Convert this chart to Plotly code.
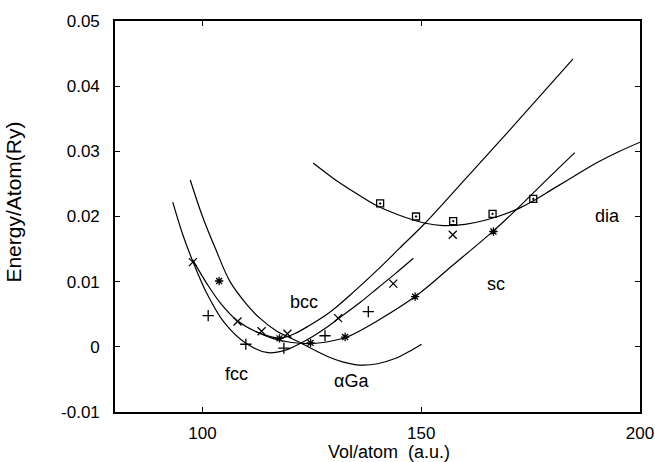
import plotly.graph_objects as go

# ---- fitted curves ----
fcc_v = [93.2, 95.5, 97.8, 101, 105, 110, 115, 119, 122, 125, 128, 131, 136, 140, 144, 148.2]
fcc_e = [0.0222, 0.0172, 0.0131, 0.0082, 0.0037, 0.0005, -0.0009, -0.0005, 0.0004, 0.0015, 0.0028, 0.0043, 0.0068, 0.0090, 0.0112, 0.0136]

bcc_v = [97.8, 101, 104, 108, 112, 116, 118.5, 121, 124, 129.1, 135, 140, 145, 150.9, 160, 170, 184.7]
bcc_e = [0.0133, 0.0097, 0.0068, 0.0040, 0.0024, 0.0015, 0.0014, 0.0020, 0.0031, 0.0053, 0.0087, 0.0118, 0.0151, 0.0190, 0.0257, 0.0331, 0.0442]

sc_v = [112, 116, 120, 124, 128, 133, 140, 149, 157, 166.5, 171.8, 178, 185.1]
sc_e = [0.0024, 0.0013, 0.0007, 0.0005, 0.0007, 0.0015, 0.0040, 0.0079, 0.0124, 0.0178, 0.0211, 0.0252, 0.0298]

aga_v = [97.2, 100, 103, 106.3, 110, 113.1, 117, 120, 122.5, 125, 129, 132, 136, 140, 144, 147, 150.1]
aga_e = [0.0256, 0.0200, 0.0150, 0.0100, 0.0066, 0.0044, 0.0024, 0.0014, 0.0006, -0.0003, -0.0016, -0.0023, -0.0028, -0.0026, -0.0018, -0.0008, 0.0004]

dia_v = [125.3, 130, 135, 140, 145, 150.7, 155, 160, 165, 171.8, 175.6, 180, 185, 190, 195, 200]
dia_e = [0.0282, 0.0258, 0.0236, 0.0216, 0.0202, 0.0190, 0.0186, 0.0188, 0.0195, 0.0211, 0.0224, 0.0242, 0.0262, 0.0282, 0.0299, 0.0314]

# ---- computed points ----
fcc_pts_v = [101.3, 109.9, 118.6, 128.0, 137.9]
fcc_pts_e = [0.0048, 0.0004, -0.0002, 0.0017, 0.0054]
bcc_pts_v = [97.8, 108.0, 113.5, 119.4, 131.0, 143.6, 157.2]
bcc_pts_e = [0.0130, 0.0039, 0.0024, 0.0020, 0.0044, 0.0097, 0.0172]
sc_pts_v = [103.8, 117.6, 124.7, 132.6, 148.6, 166.5]
sc_pts_e = [0.0101, 0.0013, 0.0006, 0.0015, 0.0077, 0.0177]
dia_pts_v = [140.6, 148.8, 157.3, 166.3, 175.6]
dia_pts_e = [0.0220, 0.0200, 0.0193, 0.0204, 0.0227]

labels = ["bcc", "fcc", "αGa", "sc", "dia"]
label_v = [123.2, 107.8, 134.1, 167.1, 192.5]
label_e = [0.0069, -0.0042, -0.0053, 0.0096, 0.0201]

x_ticks = [100, 150, 200]
y_ticks = [-0.01, 0, 0.01, 0.02, 0.03, 0.04, 0.05]
y_ticktext = ["-0.01", "0", "0.01", "0.02", "0.03", "0.04", "0.05"]

FONT = "Liberation Sans, Arial, sans-serif"

fig = go.Figure()
for v, e in [(fcc_v, fcc_e), (bcc_v, bcc_e), (sc_v, sc_e), (aga_v, aga_e), (dia_v, dia_e)]:
    fig.add_trace(go.Scatter(x=v, y=e, mode="lines",
                             line=dict(color="black", width=1.2, shape="spline", smoothing=1.0),
                             showlegend=False, hoverinfo="skip"))

marker_sets = [
    (fcc_pts_v, fcc_pts_e, "cross-thin", 8),
    (bcc_pts_v, bcc_pts_e, "x-thin", 8),
    (sc_pts_v, sc_pts_e, "asterisk", 7),
    (dia_pts_v, dia_pts_e, "square-open-dot", 7),
]
for v, e, sym, sz in marker_sets:
    fig.add_trace(go.Scatter(x=v, y=e, mode="markers",
                             marker=dict(symbol=sym, size=sz, color="black",
                                         line=dict(color="black", width=1.3)),
                             showlegend=False))

for t, v, e in zip(labels, label_v, label_e):
    fig.add_annotation(x=v, y=e, text=t, showarrow=False,
                       font=dict(family=FONT, size=18, color="black"))

# axis titles
fig.add_annotation(xref="paper", yref="paper", x=0.522, y=-0.103, text="Vol/atom  (a.u.)",
                   showarrow=False, xanchor="center", yanchor="middle",
                   font=dict(family=FONT, size=18, color="black"))
fig.add_annotation(xref="paper", yref="paper", x=-0.194, y=0.536, text="Energy/Atom(Ry)",
                   showarrow=False, textangle=-90, xanchor="center", yanchor="middle",
                   font=dict(family=FONT, size=21, color="black"))

axis_common = dict(showline=True, linecolor="black", linewidth=1.6, mirror="ticks",
                   ticks="inside", ticklen=5, tickcolor="black", tickwidth=1.2,
                   showgrid=False, zeroline=False, automargin=False,
                   tickfont=dict(family=FONT, size=17, color="black"))
fig.update_xaxes(range=[80, 200], tickvals=x_ticks, ticktext=[str(t) for t in x_ticks],
                 ticklabelstandoff=5, **axis_common)
fig.update_yaxes(range=[-0.01, 0.05], tickvals=y_ticks, ticktext=y_ticktext,
                 ticklabelstandoff=10, **axis_common)
fig.update_layout(width=655, height=462, margin=dict(l=115, r=15, t=21, b=50, autoexpand=False),
                  plot_bgcolor="white", paper_bgcolor="white")
# remove the default 8 px page margin so the figure fills the window exactly
fig.write_html("out.html", config={"displayModeBar": False},
               post_script="document.body.style.margin='0';")
